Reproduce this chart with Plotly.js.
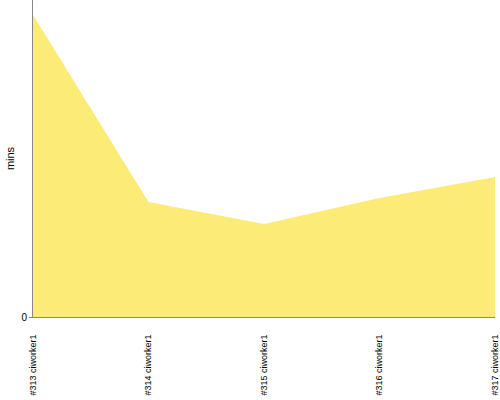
<!DOCTYPE html>
<html><head><meta charset="utf-8">
<script src="https://cdn.plot.ly/plotly-3.0.1.min.js"></script>
<style>html,body{margin:0;padding:0;background:#fff}#c{width:500px;height:400px}</style>
</head><body><div id="c"></div>
<script>
const builds = ["#313 ciworker1", "#314 ciworker1", "#315 ciworker1", "#316 ciworker1", "#317 ciworker1"];
const durations = [30.2, 11.5, 9.3, 11.9, 14.0];
const yMax = 31.7;

Plotly.newPlot('c', [{
  x: builds, y: durations, type: 'scatter', mode: 'lines',
  fill: 'tozeroy', fillcolor: 'rgb(253,235,119)',
  line: {width: 0, color: 'rgb(253,235,119)'}, hoverinfo: 'none'
}], {
  width: 500, height: 400,
  margin: {l: 33, r: 5, t: 0, b: 83, pad: 0},
  paper_bgcolor: '#fff', plot_bgcolor: '#fff',
  showlegend: false,
  font: {family: 'Liberation Sans, Arial, sans-serif', size: 9, color: '#000'},
  xaxis: {
    type: 'category', range: [0, builds.length - 1], tickangle: -90,
    showline: true, linecolor: '#888', linewidth: 1, showgrid: false,
    zeroline: false, ticks: '', ticklen: 0, automargin: false,
    ticklabelstandoff: 13,
    tickfont: {family: 'Liberation Sans, Arial, sans-serif', size: 9, color: '#000'}
  },
  yaxis: {
    range: [0, yMax], tickvals: [0], ticktext: ['0'], showgrid: false,
    showline: true, linecolor: '#888', linewidth: 1, zeroline: false,
    ticks: 'outside', ticklen: 3, tickcolor: '#888', automargin: false,
    tickfont: {family: 'Liberation Sans, Arial, sans-serif', size: 10, color: '#000'},
    title: {text: 'mins', standoff: 4, font: {family: 'Liberation Sans, Arial, sans-serif', size: 11, color: '#000'}}
  }
}, {staticPlot: true, displayModeBar: false});
</script></body></html>
